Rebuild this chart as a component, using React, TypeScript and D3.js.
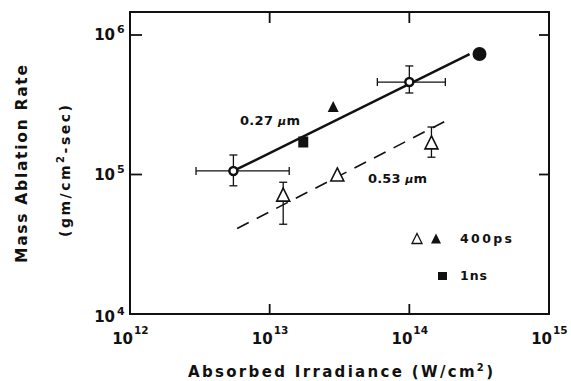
import React from "react";
import * as d3 from "d3";

const W = 571;
const H = 381;

// Axis ticks (exponents)
const xTickExps = [12, 13, 14, 15];
const yTickExps = [4, 5, 6];

// 0.27 µm points with error bars (open circles with crosshair)
const circleErrX = [5.5e12, 1.0e14];
const circleErrY = [1.06e5, 4.6e5];
const circleErrXLo = [2.97e12, 5.9e13];
const circleErrXHi = [1.38e13, 1.81e14];
const circleErrYLo = [8.3e4, 3.84e5];
const circleErrYHi = [1.38e5, 6.0e5];

// 0.27 µm filled markers
const squareX = [1.74e13];
const squareY = [1.71e5];
const filledTriX = [2.85e13];
const filledTriY = [3.05e5];
const bigCircleX = [3.18e14];
const bigCircleY = [7.3e5];

// 0.53 µm open triangles
const openTriX = [1.25e13, 3.05e13, 1.44e14];
const openTriY = [7.1e4, 9.9e4, 1.68e5];
const openTriErrLo = [4.4e4, null, 1.33e5];
const openTriErrHi = [8.8e4, null, 2.19e5];

// Fit lines
const solidLineX = [5.5e12, 2.7e14];
const solidLineY = [1.06e5, 7.3e5];
const dashedLineX = [5.85e12, 2.0e14];
const dashedLineY = [4.1e4, 2.54e5];

const FONT = "'DejaVu Sans', sans-serif";

export default function App() {
  const x = d3.scaleLog().domain([1e12, 1e15]).range([130, 549]);
  const y = d3.scaleLog().domain([1e4, 1e6]).range([314, 35]);
  const top = 12;
  const left = 130, right = 549, bottom = 314;

  const line = d3
    .line<[number, number]>()
    .x((d) => x(d[0]))
    .y((d) => y(d[1]));

  const solid = line(solidLineX.map((v, i) => [v, solidLineY[i]] as [number, number]));
  const dashed = line(dashedLineX.map((v, i) => [v, dashedLineY[i]] as [number, number]));

  const tri = (cx: number, cy: number, s: number) =>
    `M${cx},${cy - s * 0.55} L${cx + s / 2},${cy + s * 0.45} L${cx - s / 2},${cy + s * 0.45} Z`;

  const cap = 4;

  return (
    <svg
      width={W}
      height={H}
      style={{ position: "absolute", left: 0, top: 0, background: "#fff" }}
      fontFamily={FONT}
    >
      <rect x={0} y={0} width={W} height={H} fill="#fff" />
      {/* frame */}
      <rect x={left} y={top} width={right - left} height={bottom - top} fill="none" stroke="#111" strokeWidth={2} />

      {/* ticks inward */}
      {xTickExps.slice(1, 3).map((e) => (
        <g key={"xt" + e} stroke="#111" strokeWidth={1.8}>
          <line x1={x(10 ** e)} x2={x(10 ** e)} y1={bottom} y2={bottom - 10} />
          <line x1={x(10 ** e)} x2={x(10 ** e)} y1={top} y2={top + 11} />
        </g>
      ))}
      {yTickExps.slice(1).map((e) => (
        <g key={"yt" + e} stroke="#111" strokeWidth={1.8}>
          <line x1={left} x2={left + 12} y1={y(10 ** e)} y2={y(10 ** e)} />
          <line x1={right} x2={right - 10} y1={y(10 ** e)} y2={y(10 ** e)} />
        </g>
      ))}

      {/* x tick labels */}
      {xTickExps.map((e) => (
        <g key={"xl" + e} fontWeight="bold" fill="#111">
          <text x={x(10 ** e) + 3} y={344} fontSize={15} textAnchor="end">10</text>
          <text x={x(10 ** e) + 4} y={334} fontSize={10.5}>{e}</text>
        </g>
      ))}
      {/* y tick labels */}
      {yTickExps.map((e) => (
        <g key={"yl" + e} fontWeight="bold" fill="#111">
          <text x={115} y={y(10 ** e) + 5 + (e === 4 ? 3 : 0)} fontSize={15} textAnchor="end">10</text>
          <text x={117} y={y(10 ** e) - 2 + (e === 4 ? 3 : 0)} fontSize={11}>{e}</text>
        </g>
      ))}

      {/* axis titles */}
      <text x={188} y={377} fontSize={15} fontWeight="bold" textLength={305} lengthAdjust="spacing" fill="#111">
        Absorbed Irradiance (W/cm<tspan fontSize={10} dy={-6}>2</tspan><tspan dy={6}>)</tspan>
      </text>
      <text
        transform="translate(27,164) rotate(-90)"
        textAnchor="middle"
        fontSize={15.5}
        fontWeight="bold"
        textLength={198}
        lengthAdjust="spacing"
        fill="#111"
      >
        Mass Ablation Rate
      </text>
      <text
        transform="translate(70,171) rotate(-90)"
        textAnchor="middle"
        fontSize={14}
        fontWeight="bold"
        textLength={132}
        lengthAdjust="spacing"
        fill="#111"
      >
        (gm/cm<tspan fontSize={10} dy={-6}>2</tspan><tspan dy={6}>-sec)</tspan>
      </text>

      {/* fit lines */}
      <path d={solid || ""} fill="none" stroke="#111" strokeWidth={2.5} />
      <path d={dashed || ""} fill="none" stroke="#111" strokeWidth={1.6} strokeDasharray="13,9" />

      {/* error bars for circles */}
      {circleErrX.map((v, i) => {
        const cx = x(v), cy = y(circleErrY[i]);
        const xl = x(circleErrXLo[i]), xh = x(circleErrXHi[i]);
        const yl = y(circleErrYLo[i]), yh = y(circleErrYHi[i]);
        return (
          <g key={"ce" + i} stroke="#111" strokeWidth={1.3} fill="none">
            <line x1={xl} x2={xh} y1={cy} y2={cy} />
            <line x1={xl} x2={xl} y1={cy - cap} y2={cy + cap} />
            <line x1={xh} x2={xh} y1={cy - cap} y2={cy + cap} />
            <line x1={cx} x2={cx} y1={yl} y2={yh} />
            <line x1={cx - cap} x2={cx + cap} y1={yl} y2={yl} />
            <line x1={cx - cap} x2={cx + cap} y1={yh} y2={yh} />
            <circle cx={cx} cy={cy} r={4} fill="#fff" stroke="#111" strokeWidth={2.5} />
          </g>
        );
      })}

      {/* open triangles with error bars */}
      {openTriX.map((v, i) => {
        const cx = x(v), cy = y(openTriY[i]);
        const lo = openTriErrLo[i], hi = openTriErrHi[i];
        return (
          <g key={"ot" + i} stroke="#111" fill="none">
            {lo != null && hi != null && (
              <g strokeWidth={1.3}>
                <line x1={cx} x2={cx} y1={y(lo)} y2={y(hi)} />
                <line x1={cx - cap} x2={cx + cap} y1={y(lo)} y2={y(lo)} />
                <line x1={cx - cap} x2={cx + cap} y1={y(hi)} y2={y(hi)} />
              </g>
            )}
            <path d={tri(cx, cy, 13)} fill="#fff" strokeWidth={1.6} />
          </g>
        );
      })}

      {/* filled markers */}
      {squareX.map((v, i) => (
        <rect key={"sq" + i} x={x(v) - 5} y={y(squareY[i]) - 5.5} width={10} height={11} fill="#111" />
      ))}
      {filledTriX.map((v, i) => (
        <path key={"ft" + i} d={tri(x(v), y(filledTriY[i]), 11)} fill="#111" />
      ))}
      {bigCircleX.map((v, i) => (
        <circle key={"bc" + i} cx={x(v)} cy={y(bigCircleY[i])} r={7} fill="#111" />
      ))}

      {/* line labels */}
      <text x={240} y={125} fontSize={13} fontWeight="bold" fill="#111" textLength={60} lengthAdjust="spacing">
        0.27 <tspan fontStyle="italic" fontSize={11}>µ</tspan>m
      </text>
      <text x={368} y={183} fontSize={13} fontWeight="bold" fill="#111" textLength={59} lengthAdjust="spacing">
        0.53 <tspan fontStyle="italic" fontSize={11}>µ</tspan>m
      </text>

      {/* legend */}
      <path d={tri(417, 239, 10)} fill="#fff" stroke="#111" strokeWidth={1.3} />
      <path d={tri(436, 239, 10)} fill="#111" />
      <text x={460} y={243} fontSize={12.5} fontWeight="bold" fill="#111" textLength={52} lengthAdjust="spacing">400ps</text>
      <rect x={438} y={272} width={9} height={8} fill="#111" />
      <text x={460} y={280} fontSize={12.5} fontWeight="bold" fill="#111" textLength={27} lengthAdjust="spacing">1ns</text>
    </svg>
  );
}
